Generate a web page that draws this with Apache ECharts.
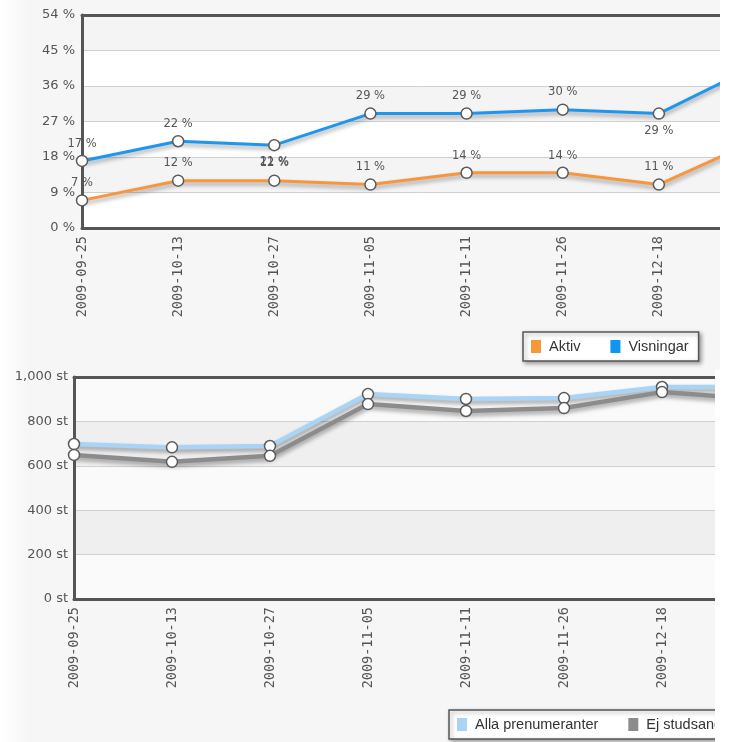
<!DOCTYPE html>
<html>
<head>
<meta charset="utf-8">
<script src="https://cdn.jsdelivr.net/npm/echarts@6/dist/echarts.min.js"></script>
<style>
  html, body { margin: 0; padding: 0; background: #fff; }
  #wrap { position: relative; width: 729px; height: 742px; overflow: hidden; }
  /* bilden är beskuren till höger: diagrammen är bredare än sina ramar */
  .clip { position: absolute; left: 0; overflow: hidden; }
  #topClip { top: 0; width: 720px; height: 370px; }
  #bottomClip { top: 370px; width: 715px; height: 372px; }
  #topChart { width: 800px; height: 370px; }
  #bottomChart { width: 800px; height: 372px; }
</style>
</head>
<body>
<div id="wrap">
  <div class="clip" id="topClip"><div id="topChart"></div></div>
  <div class="clip" id="bottomClip"><div id="bottomChart"></div></div>
</div>
<script>
// datum (sista punkten ligger utanför bilden)
const dates = ['2009-09-25', '2009-10-13', '2009-10-27', '2009-11-05', '2009-11-11', '2009-11-26', '2009-12-18', '2010-01-12'];
const aktiv = [7, 12, 12, 11, 14, 14, 11, 22];
const visningar = [17, 22, 21, 29, 29, 30, 29, 41];
const pctTicks = [0, 9, 18, 27, 36, 45, 54];

const alla = [698, 683, 689, 923, 901, 905, 955, 955];
const ejStudsande = [649, 618, 645, 878, 847, 860, 932, 900];
const stTicks = [0, 200, 400, 600, 800, 1000];

const textGrey = '#555';
const frame = { show: true, lineStyle: { color: '#555', width: 3 } };
const bgGradient = {
  type: 'linear', x: 0, y: 0, x2: 1, y2: 0,
  colorStops: [{ offset: 0, color: '#ffffff' }, { offset: 0.035, color: '#f6f6f6' }, { offset: 1, color: '#f6f6f6' }]
};

function xAxes() {
  return [{
    type: 'category', data: dates, boundaryGap: false,
    axisLine: frame, axisTick: { show: false },
    axisLabel: { rotate: 90, margin: 8, color: textGrey, fontFamily: 'DejaVu Sans Mono', fontSize: 13.5 },
    splitLine: { show: false }
  }, {
    // bara ramens överkant
    type: 'category', data: dates, boundaryGap: false, position: 'top',
    axisLine: frame, axisTick: { show: false }, axisLabel: { show: false }, splitLine: { show: false }
  }];
}

function yAxis(ticks, interval, formatter, margin, split) {
  return {
    type: 'value', min: ticks[0], max: ticks[ticks.length - 1], interval,
    axisLine: frame, axisTick: { show: false },
    axisLabel: { formatter, color: textGrey, fontFamily: 'DejaVu Sans', fontSize: 13, margin },
    splitLine: { lineStyle: { color: '#d0d0d0', width: 1 } },
    splitArea: { show: true, areaStyle: { color: split } }
  };
}

function lineSeries(name, data, color, width, withLabels) {
  return {
    name, type: 'line', data,
    symbol: 'circle', symbolSize: 11,
    itemStyle: { color: '#fff', borderColor: '#5a5a5a', borderWidth: 1.5 },
    lineStyle: { color, width, shadowColor: 'rgba(0,0,0,0.35)', shadowBlur: 4, shadowOffsetY: 3 },
    emphasis: { disabled: true },
    label: withLabels
      ? { show: true, position: 'top', formatter: '{c} %', color: textGrey, fontFamily: 'DejaVu Sans', fontSize: 11.5 }
      : { show: false }
  };
}

function legendOpt(left, top, items) {
  return {
    left, top, orient: 'horizontal', itemGap: 30, itemWidth: 10, itemHeight: 13,
    backgroundColor: '#fff', borderColor: '#555', borderWidth: 1.5,
    padding: [7, 10, 7, 8],
    shadowColor: 'rgba(0,0,0,0.35)', shadowBlur: 4, shadowOffsetX: 2, shadowOffsetY: 2,
    textStyle: { color: '#333', fontFamily: 'Liberation Sans', fontSize: 14.5, padding: [0, 0, 0, 3] },
    selectedMode: false,
    data: items.map(([name, color]) => ({ name, icon: 'rect', itemStyle: { color, borderWidth: 0 } }))
  };
}

// ---- övre diagrammet: procent
// lokala minimum för Visningar får etiketten under punkten
const visData = visningar.map((v, i) => {
  const prev = visningar[i - 1], next = visningar[i + 1];
  const isMin = prev !== undefined && next !== undefined && v < prev && v < next;
  return isMin ? { value: v, label: { position: 'bottom' } } : v;
});

const topChart = echarts.init(document.getElementById('topChart'));
topChart.setOption({
  animation: false,
  backgroundColor: bgGradient,
  grid: { left: 82, top: 15, right: 45, bottom: 142 },
  legend: legendOpt(523, 332, [['Aktiv', '#f8973a'], ['Visningar', '#0d96f2']]),
  xAxis: xAxes(),
  yAxis: yAxis(pctTicks, 9, '{value} %', 7, ['#ffffff', '#f4f4f4']),
  series: [
    lineSeries('Aktiv', aktiv, '#f7963c', 3, true),
    lineSeries('Visningar', visData, '#1e96ef', 3, true)
  ]
});

// ---- nedre diagrammet: antal
const bottomChart = echarts.init(document.getElementById('bottomChart'));
bottomChart.setOption({
  animation: false,
  backgroundColor: bgGradient,
  grid: { left: 74, top: 7, right: 40, bottom: 143 },
  legend: legendOpt(449, 340, [['Alla prenumeranter', '#a9d4f5'], ['Ej studsande', '#8c8c8c']]),
  xAxis: xAxes(),
  yAxis: yAxis(stTicks, 200, v => v.toLocaleString('en-US') + ' st', 6, ['#fafafa', '#efefef']),
  series: [
    lineSeries('Alla prenumeranter', alla, '#a9d4f5', 4.5, false),
    lineSeries('Ej studsande', ejStudsande, '#8c8c8c', 4.5, false)
  ]
});
</script>
</body>
</html>
